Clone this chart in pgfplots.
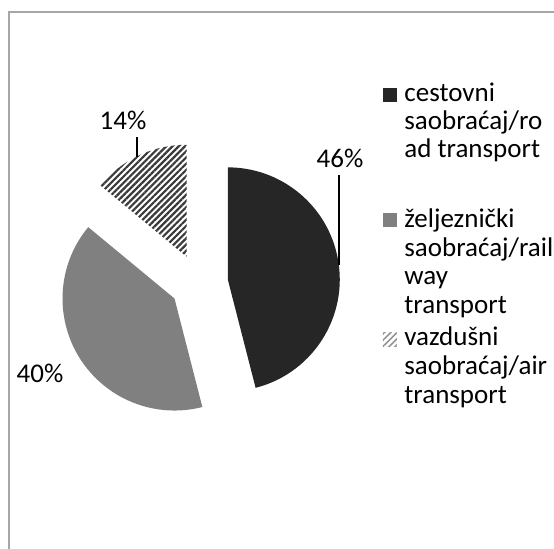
\documentclass[border=0pt]{standalone}
\usepackage{fontspec}
\setmainfont{Carlito}
\usepackage{pgfplots}
\usepackage{pgfplotstable}
\pgfplotsset{compat=1.18}
\usetikzlibrary{calc,patterns.meta}

\definecolor{road}{HTML}{262626}
\definecolor{rail}{HTML}{808080}
\definecolor{air}{HTML}{3A3A3A}
\definecolor{frame}{HTML}{A6A6A6}

% shares in percent, in the order of the legend
\pgfplotstableread{
share
46
40
14
}\shares

\begin{document}
\begin{tikzpicture}[font=\fontsize{13.5pt}{16pt}\selectfont]
\pgfplotstablegetelem{0}{share}\of\shares \let\sRoad\pgfplotsretval
\pgfplotstablegetelem{1}{share}\of\shares \let\sRail\pgfplotsretval
\pgfplotstablegetelem{2}{share}\of\shares \let\sAir\pgfplotsretval
% slices run clockwise from 12 o'clock
\pgfmathsetmacro\aA{90-3.6*\sRoad}
\pgfmathsetmacro\aB{\aA-3.6*\sRail}
\pgfmathsetmacro\aC{\aB-3.6*\sAir}
\pgfmathsetmacro\mA{(90+\aA)/2}
\pgfmathsetmacro\mB{(\aA+\aB)/2}
\pgfmathsetmacro\mC{(\aB+\aC)/2}
\def\R{56pt}
\def\ex{14.5pt}
\begin{axis}[
  hide axis, scale only axis,
  width=277pt, height=274.5pt,
  xmin=0, xmax=554, ymin=0, ymax=549,
  y dir=reverse, clip=false]
% chart area frame
\draw[frame, line width=0.8pt] (axis cs:9,549) -- (axis cs:9,12) -- (axis cs:554,12);
% exploded pie
\fill[road] ($(axis cs:199,283)+(\mA:\ex)$) -- ++(\aA:\R) arc[start angle=\aA, end angle=90, radius=\R] -- cycle;
\fill[rail] ($(axis cs:199,283)+(\mB:\ex)$) -- ++(\aB:\R) arc[start angle=\aB, end angle=\aA, radius=\R] -- cycle;
\fill[pattern={Lines[angle=45, distance=2.2pt, line width=1.1pt]}, pattern color=air]
  ($(axis cs:199,283)+(\mC:\ex)$) -- ++(\aC:\R) arc[start angle=\aC, end angle=\aB, radius=\R] -- cycle;
% data labels
\draw[black, line width=0.65pt] (axis cs:339,175) -- (axis cs:339,265);
\draw[black, line width=0.65pt] (axis cs:137,137) -- (axis cs:137,157);
\node[anchor=base] at (axis cs:340,168) {\sRoad\%};
\node[anchor=base] at (axis cs:123,130) {\sAir\%};
\node[anchor=base] at (axis cs:40,383) {\sRail\%};
% legend
\fill[road] (axis cs:383,88) rectangle (axis cs:397,102);
\fill[rail] (axis cs:383,213) rectangle (axis cs:397,227);
\fill[pattern={Lines[angle=45, distance=2.2pt, line width=0.8pt]}, pattern color=air!55]
  (axis cs:383,333) rectangle (axis cs:397,347);
\begin{scope}[every node/.style={anchor=base west, inner sep=0pt}]
\node at (axis cs:404,102) {cestovni};
\node at (axis cs:404,130) {saobraćaj/ro};
\node at (axis cs:404,158) {ad transport};
\node at (axis cs:404,228) {željeznički};
\node at (axis cs:404,257) {saobraćaj/rail};
\node at (axis cs:404,285) {way};
\node at (axis cs:404,314) {transport};
\node at (axis cs:404,346) {vazdušni};
\node at (axis cs:404,375) {saobraćaj/air};
\node at (axis cs:404,404) {transport};
\end{scope}
\end{axis}
\pgfresetboundingbox
\path (0,0) rectangle (277pt,274.5pt);
\end{tikzpicture}
\end{document}
